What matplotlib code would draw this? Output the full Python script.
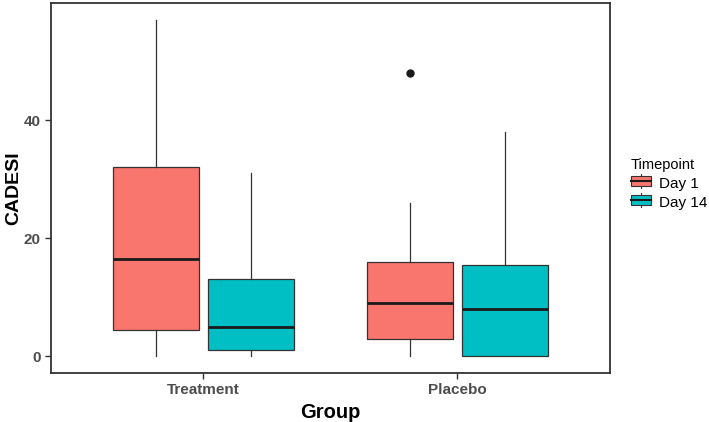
import matplotlib
matplotlib.use('Agg')
import matplotlib.pyplot as plt
from matplotlib.patches import Patch, Rectangle
from matplotlib.lines import Line2D
from matplotlib.legend_handler import HandlerBase

plt.rcParams['font.family'] = ['Liberation Sans', 'DejaVu Sans']

groups = ['Treatment', 'Placebo']
timepoints = ['Day 1', 'Day 14']
colors = ['#F8766D', '#00BFC4']

# per group, per timepoint: whisker low, q1, median, q3, whisker high
whislo = [[0, 0], [0, 0]]
q1 = [[4.5, 1.0], [3.0, 0.0]]
med = [[16.5, 5.0], [9.0, 8.0]]
q3 = [[32.0, 13.0], [16.0, 15.5]]
whishi = [[57, 31], [26, 38]]
fliers = [[[], []], [[48], []]]

edge = '#333333'


class BoxHandler(HandlerBase):
    def create_artists(self, legend, orig_handle, xd, yd, w, h, fontsize, trans):
        fc = orig_handle.get_facecolor()
        bw, bh = w * 0.95, h * 0.8
        x0 = xd + (w - bw) / 2
        y0 = yd + (h - bh) / 2
        cx = xd + w / 2
        art = [
            Line2D([cx, cx], [yd - h * 0.05, yd + h * 1.05], color=edge, lw=0.8, transform=trans),
            Rectangle((x0, y0), bw, bh, facecolor=fc, edgecolor=edge, lw=0.8, transform=trans),
            Line2D([x0, x0 + bw], [yd + h / 2, yd + h / 2], color='#1a1a1a', lw=1.5, transform=trans),
        ]
        return art


fig = plt.figure(figsize=(7.09, 4.22), dpi=100)
ax = fig.add_axes([0.072, 0.116, 0.788, 0.877])

offsets = [-0.1875, 0.1875]
for gi, g in enumerate(groups):
    for ti in range(len(timepoints)):
        stats = [{
            'whislo': whislo[gi][ti], 'q1': q1[gi][ti], 'med': med[gi][ti],
            'q3': q3[gi][ti], 'whishi': whishi[gi][ti], 'fliers': fliers[gi][ti],
        }]
        ax.bxp(stats, positions=[gi + 1 + offsets[ti]], widths=0.3375,
               patch_artist=True, showcaps=False,
               boxprops=dict(facecolor=colors[ti], edgecolor=edge, linewidth=0.9),
               medianprops=dict(color='#1a1a1a', linewidth=2.0),
               whiskerprops=dict(color=edge, linewidth=0.9),
               flierprops=dict(marker='o', markerfacecolor='#1a1a1a',
                               markeredgecolor='#1a1a1a', markersize=5))

ax.set_xlim(0.4, 2.6)
ax.set_ylim(-2.85, 59.85)
ax.set_xticks([1, 2])
ax.set_xticklabels(groups)
ax.set_yticks([0, 20, 40])
for lab in ax.get_xticklabels() + ax.get_yticklabels():
    lab.set_fontweight('bold')
    lab.set_color('#4D4D4D')
    lab.set_fontsize(11)
ax.tick_params(colors='#333333', length=4, width=1.0, labelcolor='#4D4D4D')
for s in ax.spines.values():
    s.set_color('#333333')
    s.set_linewidth(1.3)

ax.set_xlabel('Group', fontsize=14.5, fontweight='bold', labelpad=4)
ax.set_ylabel('CADESI', fontsize=14, fontweight='bold')
ax.yaxis.set_label_coords(-0.052, 0.5)

handles = [Patch(facecolor=c, edgecolor=edge) for c in colors]
leg = ax.legend(handles, timepoints, title='Timepoint', loc='center left',
                bbox_to_anchor=(1.012, 0.51), frameon=False, fontsize=11,
                title_fontsize=10.5, handler_map={Patch: BoxHandler()},
                handlelength=1.4, handleheight=0.9, handletextpad=0.5,
                labelspacing=0.3)
leg._legend_box.align = 'left'

fig.savefig('out.png', dpi=100)
